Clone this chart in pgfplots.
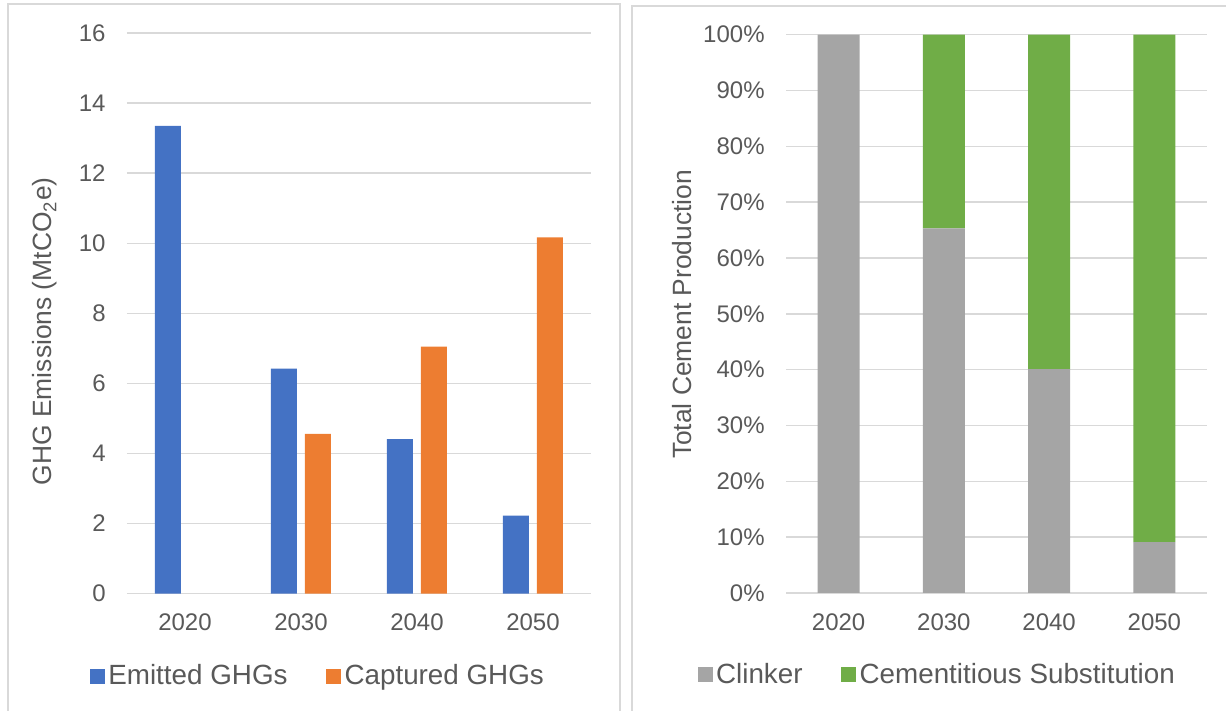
\documentclass[border=0pt]{standalone}
\usepackage{fontspec}
\setmainfont{Liberation Sans}
\usepackage{pgfplots}
\pgfplotsset{compat=1.18}

\definecolor{emitblue}{HTML}{4472C4}
\definecolor{captorange}{HTML}{ED7D31}
\definecolor{clinkgray}{HTML}{A5A5A5}
\definecolor{cemgreen}{HTML}{70AD47}
\definecolor{gridgray}{HTML}{D9D9D9}
\definecolor{txtgray}{HTML}{595959}

% shared look of both panels (Excel style)
\pgfplotsset{
  sqleg/.style={legend image code/.code={\fill[##1] (0pt,-3.75pt) rectangle (7.5pt,3.75pt);}},
  panel/.style={
    scale only axis,
    anchor=south west,
    axis line style={draw=none},
    major tick length=0pt,
    ymajorgrids,
    grid style={gridgray, line width=0.75pt},
    xmin=-0.5, xmax=3.5,
    xtick={0,1,2,3},
    xticklabels={2020,2030,2040,2050},
    tick label style={font=\fontsize{12}{14}\selectfont, text=txtgray},
    yticklabel style={inner sep=0pt, xshift=-10.5pt},
    xticklabel style={inner sep=0pt, anchor=north, yshift=-10pt},
    label style={font=\fontsize{13.2}{15}\selectfont, text=txtgray},
    /pgf/number format/assume math mode=true,
    legend style={draw=none, fill=none, legend columns=2, anchor=center,
      font=\fontsize{13.9}{16}\selectfont, text=txtgray,
      nodes={inner sep=1.75pt},
      /tikz/every even column/.append style={column sep=17.5pt}},
  }
}

\begin{document}
\begin{tikzpicture}
\useasboundingbox (0,0) rectangle (613pt,355.5pt);
\begin{scope}
  \clip (0,0) rectangle (613pt,355.5pt);
  \draw[gridgray, line width=1pt] (4pt,-5pt) rectangle (310pt,353.5pt);
  \draw[gridgray, line width=1pt] (316pt,-5pt) rectangle (620pt,352.5pt);
\end{scope}

% left: emitted vs captured GHGs
\begin{axis}[panel,
  at={(63.5pt,58.65pt)}, width=232pt, height=280.35pt,
  ymin=0, ymax=16, ytick={0,2,...,16},
  ybar=4pt, bar width=13pt,
  ylabel={GHG Emissions (MtCO\textsubscript{2}e)},
  ylabel style={at={(axis description cs:-0.177,0.468)}, anchor=center},
  legend style={at={(0.413,-0.147)}},
]
\addplot[fill=emitblue, draw=none, sqleg] coordinates {(0,13.35) (1,6.42) (2,4.41) (3,2.23)};
\addplot[fill=captorange, draw=none, sqleg] coordinates {(1,4.56) (2,7.05) (3,10.17)};
\legend{Emitted GHGs, Captured GHGs}
\end{axis}

% right: share of cement production
\begin{axis}[panel,
  at={(393pt,59pt)}, width=210.5pt, height=279.15pt,
  ymin=0, ymax=100, ytick={0,10,...,100},
  yticklabel={\pgfmathprintnumber{\tick}\%},
  ybar stacked, bar width=21pt,
  ylabel={Total Cement Production},
  ylabel style={at={(axis description cs:-0.247,0.499)}, anchor=center},
  legend style={at={(0.361,-0.146)}},
]
\addplot[fill=clinkgray, draw=none, sqleg] coordinates {(0,100) (1,65.3) (2,40.1) (3,9.1)};
\addplot[fill=cemgreen, draw=none, sqleg] coordinates {(0,0) (1,34.7) (2,59.9) (3,90.9)};
\legend{Clinker, Cementitious Substitution}
\end{axis}
\end{tikzpicture}
\end{document}
